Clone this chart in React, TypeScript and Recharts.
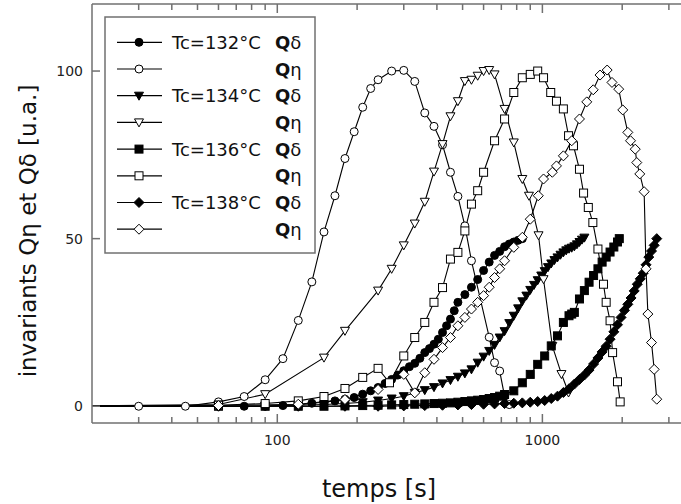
import React from "react";
import { Line, LineChart, ReferenceLine, XAxis, YAxis } from "recharts";

const FONT = '"DejaVu Sans", Verdana, sans-serif';
const FRAME = "#707070";

// Tc = 132 °C
const t132eta = [15, 30, 45, 60, 75, 90, 105, 120, 135, 150, 165, 180, 195, 210, 225, 240, 270, 300, 330, 360, 390, 420, 450, 480, 510, 540, 630, 660, 690, 720, 750];
const v132eta = [0, 0, 0, 1.3, 2.9, 7.9, 14.2, 25.6, 37.1, 52, 62.8, 73.9, 81.9, 89.2, 94.8, 97.4, 100, 100.2, 96.9, 87.5, 83.5, 78, 69.8, 62.6, 53.8, 43.4, 20.6, 13, 10.5, 3, 0.5];
const t132delta = [15, 75, 90, 105, 120, 135, 150, 165, 180, 195, 210, 225, 240, 255, 270, 285, 300, 315, 330, 345, 360, 375, 390, 405, 420, 435, 450, 465, 480, 510, 540, 570, 600, 630, 660, 690, 720, 750, 780, 810, 840];
const v132delta = [0, 0, 0, 0.2, 0.4, 0.9, 1.2, 1.6, 2.1, 2.6, 3.6, 4.6, 5.6, 6.8, 8, 9.3, 10.6, 11.8, 12.8, 14.3, 16, 17.2, 18.5, 20, 22, 24, 26, 28.5, 31, 33.3, 35.5, 37.8, 40.5, 43, 45, 46.2, 47.6, 48.4, 49, 49.5, 50];

// Tc = 134 °C
const t134eta = [15, 60, 90, 150, 180, 240, 270, 300, 330, 360, 390, 420, 450, 480, 510, 540, 570, 600, 630, 660, 720, 780, 840, 890, 967, 1010, 1090, 1180, 1255];
const v134eta = [0, 0.5, 3.6, 14.5, 22.5, 34.5, 41, 48, 54.5, 61, 70, 78.2, 86.5, 91, 97, 97.4, 98.6, 100, 100.3, 99, 88.7, 78.7, 67.8, 62.8, 51, 37.9, 18, 9.6, 4.1];
const t134delta = [15, 60, 90, 120, 150, 180, 210, 240, 270, 300, 330, 360, 390, 420, 450, 480, 510, 540, 570, 600, 630, 660, 690, 720, 750, 780, 810, 840, 870, 900, 930, 960, 990, 1020, 1050, 1080, 1110, 1140, 1170, 1200, 1230, 1260, 1290, 1320, 1350, 1380, 1410, 1440];
const v134delta = [0, 0, 0.1, 0.3, 0.5, 0.8, 1.2, 1.7, 2.3, 3, 4, 4.8, 5.7, 6.8, 7.8, 8.8, 9.8, 11, 13, 14.8, 16.5, 18.3, 20.5, 22.4, 24.8, 27, 29.2, 31.3, 33, 34.7, 36.2, 37.6, 39, 40.3, 41.5, 42.6, 43.6, 44.4, 45.2, 45.9, 46.5, 47, 47.3, 47.7, 48.3, 49, 49.7, 50.3];

// Tc = 136 °C
const t136eta = [15, 60, 90, 120, 150, 180, 210, 240, 265, 300, 330, 360, 390, 420, 450, 480, 510, 540, 570, 600, 660, 720, 780, 840, 900, 960, 1010, 1075, 1130, 1200, 1255, 1310, 1380, 1430, 1490, 1550, 1620, 1700, 1740, 1800, 1840, 1920, 1965];
const v136eta = [0, 0.3, 0.8, 1.6, 2.9, 5.3, 8.6, 11.3, 7, 15, 20.5, 25, 31, 35.4, 43.9, 45.9, 52.3, 60.3, 64.3, 69.8, 79.2, 85.7, 93.6, 98, 99, 100, 98, 93.6, 91, 88.7, 80.7, 77.7, 70.7, 63.6, 59.3, 54.8, 46.9, 36.4, 31, 25.5, 16, 7.3, 1.3];
const t136delta = [15, 60, 90, 120, 150, 180, 210, 240, 270, 300, 330, 360, 390, 420, 450, 480, 510, 540, 570, 600, 630, 660, 690, 720, 780, 840, 900, 960, 1020, 1080, 1140, 1200, 1260, 1290, 1320, 1380, 1440, 1500, 1560, 1620, 1680, 1740, 1800, 1860, 1920, 1950];
const v136delta = [0, 0, 0, 0, 0, 0.1, 0.2, 0.3, 0.4, 0.5, 0.6, 0.7, 0.8, 0.9, 1, 1.2, 1.4, 1.6, 1.8, 2, 2.3, 2.6, 3, 3.5, 4.6, 7, 9.5, 12.5, 15, 18, 21, 25, 27, 27.5, 28, 32, 34.5, 37, 39, 41, 43, 44.5, 46, 47.5, 49, 50];

// Tc = 138 °C
const t138eta = [15, 60, 120, 180, 240, 300, 330, 360, 390, 420, 450, 480, 510, 540, 570, 600, 630, 660, 690, 720, 780, 840, 900, 965, 1010, 1090, 1130, 1200, 1290, 1380, 1470, 1555, 1650, 1755, 1830, 1940, 2010, 2100, 2150, 2240, 2270, 2330, 2420, 2460, 2500, 2580, 2640, 2700];
const v138eta = [0, 0.2, 0.6, 2, 5, 9.5, 4, 10, 14, 17.5, 20.5, 24, 26.5, 29, 31, 33, 35.5, 38.4, 41, 43.4, 47.4, 50.4, 55.8, 62.8, 67.8, 69.8, 71.7, 74.7, 79.2, 85.7, 90.8, 94.4, 98.8, 100.3, 96.6, 94.6, 88.4, 81.7, 79.2, 76.7, 72.7, 69.3, 64, 41, 27.5, 19, 11, 2.1];
const t138delta = [15, 60, 120, 180, 240, 300, 360, 420, 480, 540, 600, 660, 720, 780, 840, 900, 960, 1020, 1080, 1140, 1200, 1260, 1320, 1380, 1440, 1500, 1560, 1620, 1680, 1740, 1800, 1860, 1920, 1980, 2040, 2100, 2160, 2220, 2280, 2340, 2400, 2460, 2520, 2580, 2640, 2700];
const v138delta = [0, 0, 0, 0, 0, 0.1, 0.2, 0.3, 0.4, 0.5, 0.6, 0.7, 0.8, 0.9, 1, 1.2, 1.4, 1.7, 2.3, 3, 4.1, 5.2, 6.6, 8, 9.3, 10.8, 12.6, 14.4, 16.2, 17.9, 20, 22.2, 24.3, 26.5, 28.6, 30.4, 32.3, 34.4, 36.4, 38, 39.7, 42.2, 44.5, 46.3, 48, 50];

const xTicks = [30, 40, 50, 60, 70, 80, 90, 100, 200, 300, 400, 500, 600, 700, 800, 900, 1000, 2000, 3000];
const xLabels = [100, 1000];
const yTicks = [0, 50, 100];
const X_MIN = 20;
const X_MAX = 4000;
const Y_MIN = -5;
const Y_TOP = 120;

type Shape = "circle" | "triangle" | "square" | "diamond";

const toRows = (ts: number[], vs: number[]) => ts.map((t, i) => ({ t, v: vs[i] }));

const series = [
  { key: "132d", label: "Tc=132°C", q: "δ", shape: "circle" as Shape, filled: true, data: toRows(t132delta, v132delta) },
  { key: "132e", label: "", q: "η", shape: "circle" as Shape, filled: false, data: toRows(t132eta, v132eta) },
  { key: "134d", label: "Tc=134°C", q: "δ", shape: "triangle" as Shape, filled: true, data: toRows(t134delta, v134delta) },
  { key: "134e", label: "", q: "η", shape: "triangle" as Shape, filled: false, data: toRows(t134eta, v134eta) },
  { key: "136d", label: "Tc=136°C", q: "δ", shape: "square" as Shape, filled: true, data: toRows(t136delta, v136delta) },
  { key: "136e", label: "", q: "η", shape: "square" as Shape, filled: false, data: toRows(t136eta, v136eta) },
  { key: "138d", label: "Tc=138°C", q: "δ", shape: "diamond" as Shape, filled: true, data: toRows(t138delta, v138delta) },
  { key: "138e", label: "", q: "η", shape: "diamond" as Shape, filled: false, data: toRows(t138eta, v138eta) },
];

// inward tick marks: placed on the frame through the chart's own scales
const bottomTickRows = xTicks.map((t) => ({ t, v: Y_MIN }));
const topTickRows = xTicks.map((t) => ({ t, v: Y_TOP }));
const leftTickRows = yTicks.map((v) => ({ t: X_MIN, v }));

function Marker({ shape, filled, cx, cy }: { shape: Shape; filled: boolean; cx: number; cy: number }) {
  const fill = filled ? "#000" : "#fff";
  const common = { fill, stroke: "#000", strokeWidth: 1 };
  if (shape === "circle") return <circle cx={cx} cy={cy} r={4} {...common} />;
  if (shape === "square") return <rect x={cx - 4} y={cy - 4} width={8} height={8} {...common} />;
  if (shape === "triangle")
    return <polygon points={`${cx - 4.5},${cy - 3.5} ${cx + 4.5},${cy - 3.5} ${cx},${cy + 4.5}`} {...common} />;
  return <polygon points={`${cx},${cy - 5} ${cx + 5},${cy} ${cx},${cy + 5} ${cx - 5},${cy}`} {...common} />;
}

const dotFor = (shape: Shape, filled: boolean) => (p: any) => {
  if (p.cx == null || p.cy == null) return <g key={p.index} />;
  return (
    <g key={p.index}>
      <Marker shape={shape} filled={filled} cx={p.cx} cy={p.cy} />
    </g>
  );
};

const tickDot = (dir: "up" | "down" | "right") => (p: any) => {
  if (p.cx == null || p.cy == null) return <g key={p.index} />;
  const len = dir === "right" ? 8 : xLabels.includes(p.payload.t) ? 9 : 6;
  const x2 = dir === "right" ? p.cx + len : p.cx;
  const y2 = dir === "up" ? p.cy - len : dir === "down" ? p.cy + len : p.cy;
  return <line key={p.index} x1={p.cx} y1={p.cy} x2={x2} y2={y2} stroke={FRAME} strokeWidth={1.5} />;
};

function LegendBox() {
  return (
    <svg width={214} height={240} style={{ position: "absolute", left: 104, top: 16 }}>
      <rect x={1} y={1} width={210} height={236} fill="#fff" stroke={FRAME} strokeWidth={1.5} />
      {series.map((s, i) => {
        const cy = 26.3 + 26.7 * i;
        return (
          <g key={s.key}>
            <line x1={13} x2={58} y1={cy} y2={cy} stroke="#000" strokeWidth={1.2} />
            <Marker shape={s.shape} filled={s.filled} cx={35} cy={cy} />
            {s.label && (
              <text x={68} y={cy + 6.5} fontFamily={FONT} fontSize={18} fill="#111">
                {s.label}
              </text>
            )}
            <text x={171} y={cy + 6.5} fontFamily={FONT} fontSize={18} fill="#111">
              <tspan fontWeight="bold">Q</tspan>
              {s.q}
            </text>
          </g>
        );
      })}
    </svg>
  );
}

export default function App() {
  return (
    <div style={{ position: "fixed", left: 0, top: 0, width: 681, height: 504, overflow: "hidden", background: "#fff" }}>
      <LineChart width={712} height={504} margin={{ top: 4, right: 10, left: 0, bottom: 0 }}>
        <XAxis
          dataKey="t"
          type="number"
          scale="log"
          domain={[X_MIN, X_MAX]}
          allowDataOverflow
          ticks={xTicks}
          interval={0}
          height={81}
          tickSize={0}
          tickMargin={12}
          tickLine={false}
          tickFormatter={(v: number) => (xLabels.includes(v) ? String(v) : "")}
          tick={{ fontFamily: FONT, fontSize: 14, fill: "#222" }}
          axisLine={{ stroke: FRAME, strokeWidth: 1.5 }}
          label={{
            content: () => (
              <text x={379} y={497} textAnchor="middle" fontFamily={FONT} fontSize={24} fill="#111">
                temps [s]
              </text>
            ),
          }}
        />
        <YAxis
          type="number"
          domain={[Y_MIN, Y_TOP]}
          allowDataOverflow
          ticks={yTicks}
          interval={0}
          width={92}
          tickSize={0}
          tickMargin={9}
          tickLine={false}
          tick={{ fontFamily: FONT, fontSize: 14, fill: "#222" }}
          axisLine={{ stroke: FRAME, strokeWidth: 1.5 }}
          label={{
            content: () => (
              <text
                transform="translate(36 231) rotate(-90)"
                textAnchor="middle"
                fontFamily={FONT}
                fontSize={23}
                fill="#111"
              >
                invariants Qη et Qδ [u.a.]
              </text>
            ),
          }}
        />
        <ReferenceLine y={Y_TOP} stroke={FRAME} strokeWidth={1.5} />
        <Line data={bottomTickRows} dataKey="v" stroke="none" dot={tickDot("up")} activeDot={false} isAnimationActive={false} />
        <Line data={topTickRows} dataKey="v" stroke="none" dot={tickDot("down")} activeDot={false} isAnimationActive={false} />
        <Line data={leftTickRows} dataKey="v" stroke="none" dot={tickDot("right")} activeDot={false} isAnimationActive={false} />
        {series.map((s) => (
          <Line
            key={s.key}
            data={s.data}
            dataKey="v"
            type="linear"
            stroke="#000"
            strokeWidth={1.1}
            dot={dotFor(s.shape, s.filled)}
            activeDot={false}
            isAnimationActive={false}
          />
        ))}
      </LineChart>
      <LegendBox />
    </div>
  );
}
